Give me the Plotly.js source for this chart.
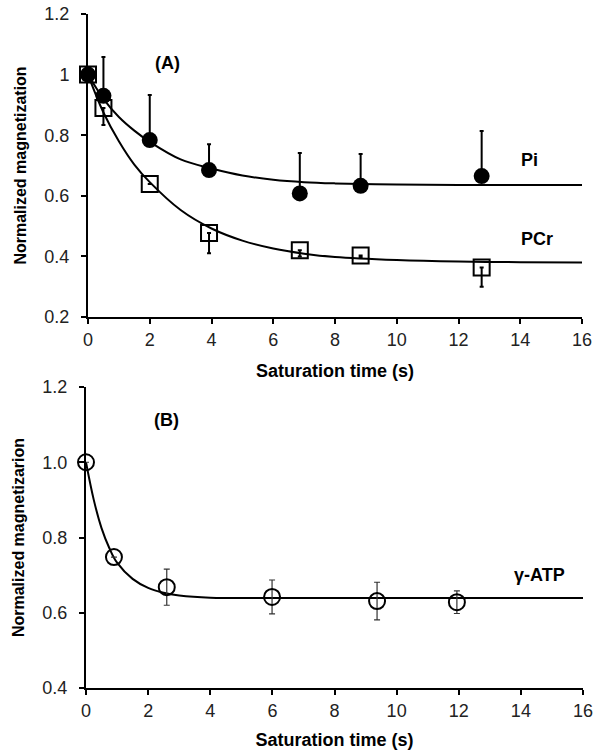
<!DOCTYPE html>
<html>
<head>
<meta charset="utf-8">
<script src="https://cdn.plot.ly/plotly-3.0.1.min.js"></script>
<style>
  html, body { margin: 0; padding: 0; background: #fff; }
  #chart { width: 601px; height: 756px; }
</style>
</head>
<body>
<div id="chart"></div>
<script>
// Panel A: measured points
var timeA = [0, 0.5, 2, 3.92, 6.86, 8.83, 12.75];
var piVals = [1.0, 0.93, 0.784, 0.685, 0.608, 0.633, 0.665];
var piErrUp = [0, 0.128, 0.149, 0.085, 0.133, 0.105, 0.149];
var pcrVals = [1.0, 0.89, 0.639, 0.477, 0.42, 0.403, 0.363];
var pcrErrDown = [0, 0.056, 0, 0.067, 0.02, 0.005, 0.063];

// Panel A: fitted curves
var fitTimeA = [0, 0.5, 1, 1.5, 2, 3, 4, 5, 6, 7, 8, 10, 12, 14, 16];
var piFit = [1.0, 0.92, 0.86, 0.815, 0.778, 0.72, 0.69, 0.667, 0.653, 0.645, 0.641, 0.637, 0.636, 0.636, 0.636];
var pcrFit = [1.0, 0.875, 0.78, 0.703, 0.645, 0.553, 0.492, 0.452, 0.426, 0.409, 0.398, 0.388, 0.383, 0.381, 0.38];

// Panel B: gamma-ATP
var timeB = [0, 0.9, 2.6, 5.99, 9.37, 11.94];
var atpVals = [1.0, 0.748, 0.668, 0.642, 0.631, 0.628];
var atpErr = [0, 0, 0.048, 0.045, 0.05, 0.03];
var fitTimeB = [0, 0.25, 0.5, 0.75, 1, 1.5, 2, 2.5, 3, 4, 6, 8, 12, 16];
var atpFit = [1.0, 0.9, 0.825, 0.772, 0.733, 0.69, 0.666, 0.653, 0.646, 0.64, 0.639, 0.639, 0.639, 0.639];

var font = 'Liberation Sans, Arial, sans-serif';

var data = [
    {x: fitTimeA, y: piFit, mode: 'lines', line: {color: 'black', width: 2, shape: 'spline'},
     xaxis: 'x', yaxis: 'y', hoverinfo: 'none'},
    {x: fitTimeA, y: pcrFit, mode: 'lines', line: {color: 'black', width: 2, shape: 'spline'},
     xaxis: 'x', yaxis: 'y', hoverinfo: 'none'},
    {x: timeA, y: piVals, mode: 'markers', cliponaxis: false,
     marker: {symbol: 'circle', size: 16, color: 'black'},
     error_y: {type: 'data', symmetric: false, array: piErrUp, arrayminus: piErrUp.map(function () { return 0; }),
               color: 'black', thickness: 2, width: 2},
     xaxis: 'x', yaxis: 'y'},
    {x: timeA, y: pcrVals, mode: 'markers', cliponaxis: false,
     marker: {symbol: 'square-open', size: 16, color: 'black', line: {width: 2}},
     error_y: {type: 'data', symmetric: false, array: pcrErrDown.map(function () { return 0; }), arrayminus: pcrErrDown,
               color: 'black', thickness: 2, width: 2},
     xaxis: 'x', yaxis: 'y'},
    {x: fitTimeB, y: atpFit, mode: 'lines', line: {color: 'black', width: 2, shape: 'spline'},
     xaxis: 'x2', yaxis: 'y2', hoverinfo: 'none'},
    {x: timeB, y: atpVals, mode: 'markers', cliponaxis: false,
     marker: {symbol: 'circle-open', size: 16, color: 'black', line: {width: 2}},
     error_y: {type: 'data', array: atpErr, color: '#333', thickness: 1.2, width: 3},
     xaxis: 'x2', yaxis: 'y2'}
];

function xAxis(domain, anchor, standoff) {
    return {
        domain: domain, anchor: anchor, range: [0, 16], dtick: 2,
        showline: true, linecolor: 'black', linewidth: 2, showgrid: false, zeroline: false,
        ticks: 'outside', ticklen: 5, tickwidth: 2, tickcolor: 'black',
        tickfont: {family: font, size: 18, color: '#222'},
        title: {text: 'Saturation time (s)', font: {family: font, size: 18, color: 'black', weight: 'bold'}, standoff: standoff}
    };
}
function yAxis(domain, anchor, range, title, fmt) {
    return {
        domain: domain, anchor: anchor, range: range, dtick: 0.2, tickformat: fmt,
        showline: true, linecolor: 'black', linewidth: 2, showgrid: false, zeroline: false,
        ticks: 'outside', ticklen: 5, tickwidth: 2, tickcolor: 'black', ticklabelstandoff: 8,
        tickfont: {family: font, size: 18, color: '#222'},
        title: {text: title, font: {family: font, size: 16, color: 'black', weight: 'bold'}, standoff: 14}
    };
}

var layout = {
    width: 601, height: 756,
    margin: {l: 0, r: 0, t: 0, b: 0},
    showlegend: false,
    paper_bgcolor: 'white', plot_bgcolor: 'white',
    font: {family: font},
    xaxis: xAxis([88 / 601, 582 / 601], 'y', 16),
    yaxis: yAxis([1 - 317 / 756, 1 - 14 / 756], 'x', [0.2, 1.2], 'Normalized magnetization', ''),
    xaxis2: xAxis([86 / 601, 583 / 601], 'y2', 14),
    yaxis2: yAxis([1 - 688 / 756, 1 - 387 / 756], 'x2', [0.4, 1.2], 'Normalized magnetizarion', '.1f'),
    annotations: [
        {text: '(A)', x: 2.59, y: 1.038, xref: 'x', yref: 'y', showarrow: false,
         font: {family: font, size: 18, color: 'black', weight: 'bold'}},
        {text: 'Pi', x: 14.3, y: 0.718, xref: 'x', yref: 'y', showarrow: false,
         font: {family: font, size: 18, color: 'black', weight: 'bold'}},
        {text: 'PCr', x: 14.55, y: 0.457, xref: 'x', yref: 'y', showarrow: false,
         font: {family: font, size: 18, color: 'black', weight: 'bold'}},
        {text: '(B)', x: 2.58, y: 1.112, xref: 'x2', yref: 'y2', showarrow: false,
         font: {family: font, size: 18, color: 'black', weight: 'bold'}},
        {text: '\u03b3-ATP', x: 14.6, y: 0.70, xref: 'x2', yref: 'y2', showarrow: false,
         font: {family: font, size: 18, color: 'black', weight: 'bold'}}
    ]
};

Plotly.newPlot('chart', data, layout, {displayModeBar: false, staticPlot: true});
</script>
</body>
</html>
